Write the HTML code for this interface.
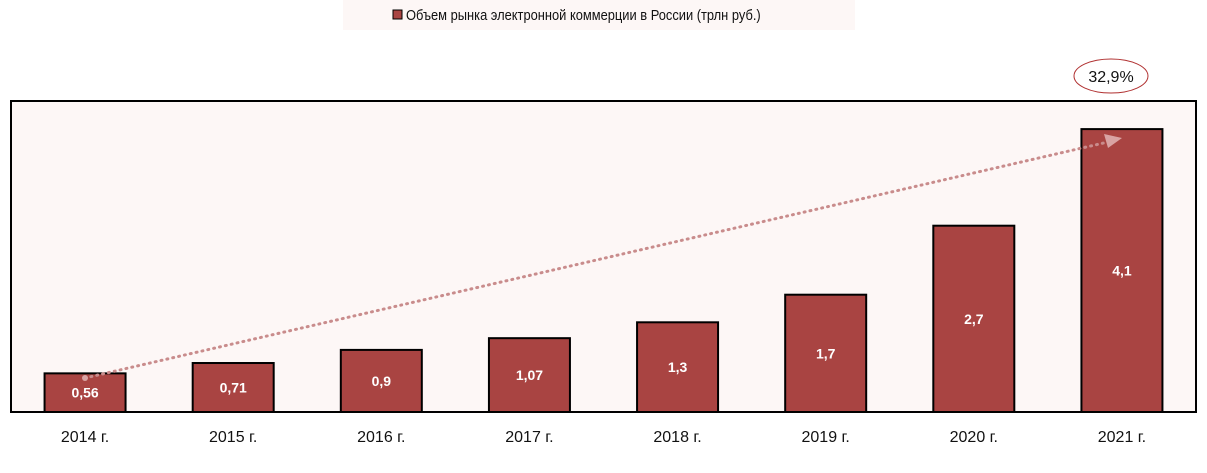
<!DOCTYPE html>
<html><head><meta charset="utf-8"><style>
body{margin:0;background:#fff;}
svg{display:block;font-family:"Liberation Sans Narrow","Liberation Sans",sans-serif;}
</style></head><body>
<svg id="chart" width="1207" height="473" viewBox="0 0 1207 473">
<rect x="343" y="0" width="512" height="30" fill="#fdf7f6"/>
<g>
<rect x="393" y="10" width="9" height="9" fill="#a94442" stroke="#000" stroke-width="1"/>
<text x="406" y="20" font-size="15" transform="translate(406 0) scale(0.86 1) translate(-406 0)" fill="#111">Объем рынка электронной коммерции в России (трлн руб.)</text>
</g>
<rect x="11" y="101" width="1185" height="311" fill="#fdf7f6" stroke="#000" stroke-width="2"/>
<g id="bars"></g>
<line x1="85" y1="378" x2="1108" y2="142" stroke="#c98c8c" stroke-width="3" stroke-dasharray="1 5" stroke-linecap="round"/>
<polygon points="1122,138 1104,134 1108,148" fill="#d9a3a3"/>
<circle cx="85" cy="378" r="3" fill="#d9a3a3"/>
<ellipse cx="1111" cy="76" rx="37" ry="17" fill="#fff" stroke="#b03030" stroke-width="1"/>
<text x="1111" y="82" font-size="16" text-anchor="middle" fill="#111">32,9%</text>
</svg>
<script>
const categories=["2014 г.","2015 г.","2016 г.","2017 г.","2018 г.","2019 г.","2020 г.","2021 г."];
const values=[0.56,0.71,0.9,1.07,1.3,1.7,2.7,4.1];
const valueLabels=["0,56","0,71","0,9","1,07","1,3","1,7","2,7","4,1"];
const NS="http://www.w3.org/2000/svg";
const x0=11,x1=1196,base=412,pxPerUnit=69;
const step=(x1-x0)/categories.length;
const xCenter=i=>x0+step*(i+0.5);
const yScale=v=>base-v*pxPerUnit;
const g=document.getElementById("bars");
categories.forEach((c,i)=>{
  const cx=xCenter(i),w=81,top=yScale(values[i]);
  const r=document.createElementNS(NS,"rect");
  r.setAttribute("x",cx-w/2);r.setAttribute("y",top);r.setAttribute("width",w);r.setAttribute("height",base-top);
  r.setAttribute("fill","#a94442");r.setAttribute("stroke","#000");r.setAttribute("stroke-width","2");
  
  
  g.appendChild(r);
  const t=document.createElementNS(NS,"text");
  t.setAttribute("x",cx);t.setAttribute("y",Math.max((top+base)/2+5,top+20));
  t.setAttribute("text-anchor","middle");t.setAttribute("font-size","14");t.setAttribute("font-weight","bold");t.setAttribute("fill","#fff");
  t.textContent=valueLabels[i];
  
  
  g.appendChild(t);
  const l=document.createElementNS(NS,"text");
  l.setAttribute("x",cx);l.setAttribute("y",442);l.setAttribute("text-anchor","middle");l.setAttribute("font-size","16");l.setAttribute("fill","#111");
  l.textContent=c;
  
  
  g.appendChild(l);
});
</script>
</body></html>
